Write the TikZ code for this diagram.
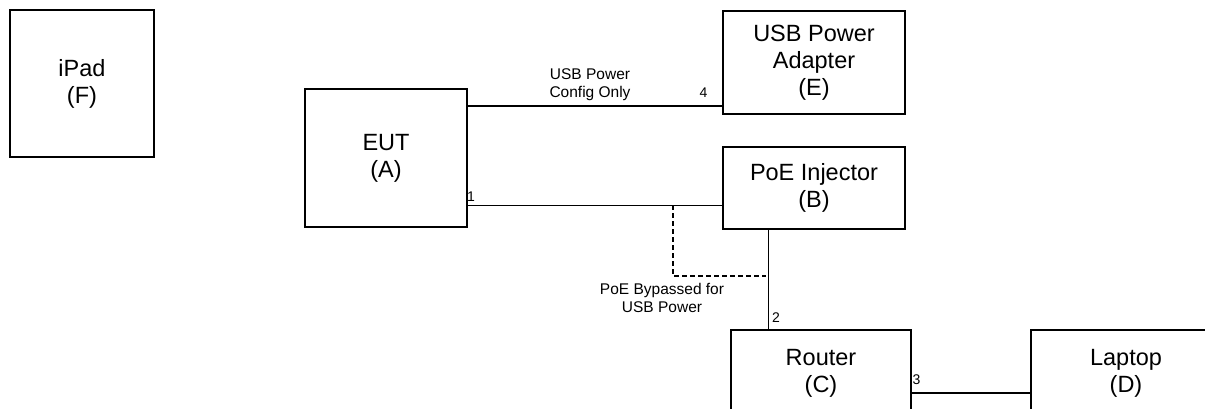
\documentclass[tikz,border=0pt]{standalone}
\usepackage{fontspec}
\setmainfont{Liberation Sans}
\begin{document}
\begin{tikzpicture}[x=1pt,y=-1pt,
  box/.style={draw, line width=1.6pt, align=center, inner sep=0pt,
    font=\fontsize{23.5}{27}\selectfont},
  thickconn/.style={line width=1.6pt},
  thinconn/.style={line width=1pt},
  dashconn/.style={line width=1.2pt, dash pattern=on 5pt off 3pt},
  lbl/.style={align=center, inner sep=0pt, font=\fontsize{15.5}{18}\selectfont},
  port/.style={inner sep=0pt, font=\fontsize{14}{16}\selectfont}]
\useasboundingbox (0,0) rectangle (1205,409);
\clip (0,0) rectangle (1205,409);

\node[box, minimum width=144pt, minimum height=147pt] (F) at (82,83.5) {iPad\\(F)};
\node[box, minimum width=162pt, minimum height=138pt] (A) at (386,158) {EUT\\(A)};
\node[box, minimum width=182pt, minimum height=103pt] (E) at (814,62.5) {USB Power\\Adapter\\(E)};
\node[box, minimum width=182pt, minimum height=82pt] (B) at (814,188) {PoE Injector\\(B)};
\node[box, minimum width=180pt, minimum height=86pt] (C) at (821,373) {Router\\(C)};
\node[box, minimum width=190pt, minimum height=86pt] (D) at (1126,373) {Laptop\\(D)};

\coordinate (yE) at (0,106);
\coordinate (y1) at (0,205);
\coordinate (x2) at (768,0);
\coordinate (y3) at (0,393);
\coordinate (d1) at (673,205);
\coordinate (d2) at (766,276);

\draw[thickconn] (A.east |- yE) -- (E.west |- yE);
\draw[thinconn] (A.east |- y1) -- (B.west |- y1);
\draw[dashconn] (d1) |- (d2);
\draw[thinconn] (B.south -| x2) -- (C.north -| x2);
\draw[thickconn] (C.east |- y3) -- (D.west |- y3);

\node[lbl] (lE) at (590,85) {USB Power\\Config Only};
\node[lbl] (lP) at (662,298) {PoE Bypassed for\\USB Power};
\node[port] (p4) at (703.5,92.5) {4};
\node[port] (p1) at (471,197) {1};
\node[port] (p2) at (776,317.5) {2};
\node[port] (p3) at (916.5,379.5) {3};
\end{tikzpicture}
\end{document}
